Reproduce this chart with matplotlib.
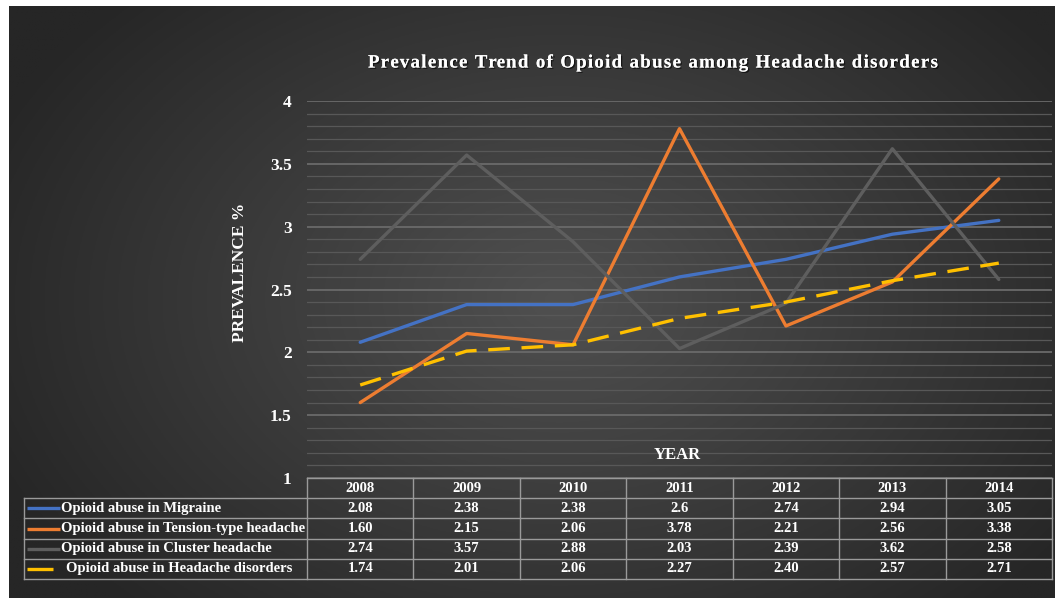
import numpy as np
import matplotlib
matplotlib.use("Agg")
import matplotlib.pyplot as plt
import matplotlib.patheffects as pe
from matplotlib.transforms import blended_transform_factory

# ---- data ----
years = [2008, 2009, 2010, 2011, 2012, 2013, 2014]
series_names = [
    "Opioid abuse in Migraine",
    "Opioid abuse in Tension-type headache",
    "Opioid abuse in Cluster headache",
    "Opioid abuse in Headache disorders",
]
migraine = [2.08, 2.38, 2.38, 2.6, 2.74, 2.94, 3.05]
tension = [1.60, 2.15, 2.06, 3.78, 2.21, 2.56, 3.38]
cluster = [2.74, 3.57, 2.88, 2.03, 2.39, 3.62, 2.58]
headache = [1.74, 2.01, 2.06, 2.27, 2.40, 2.57, 2.71]
yticks = [1, 1.5, 2, 2.5, 3, 3.5, 4]
ytick_labels = ["1", "1.5", "2", "2.5", "3", "3.5", "4"]

series = [migraine, tension, cluster, headache]
value_fmt = ["{:g}", "{:.2f}", "{:.2f}", "{:.2f}"]
colors = ["#4472C4", "#ED7D31", "#5E5E5E", "#FFC000"]
dashed = [False, False, False, True]

W, H = 1055, 598
SERIF = "Liberation Serif"

fig = plt.figure(figsize=(W / 100, H / 100), dpi=100)
fig.patch.set_facecolor("white")

# ---- dark radial-gradient backdrop ----
bx0, by0, bx1, by1 = 9, 6, W, H  # pixel box (top-down)
bg = fig.add_axes([bx0 / W, 0, (bx1 - bx0) / W, (by1 - by0) / H])
bg.set_axis_off()
gx = np.linspace(bx0, bx1, 400)
gy = np.linspace(by0, by1, 240)
GX, GY = np.meshgrid(gx, gy)
r = np.sqrt(((GX - 560) / 620) ** 2 + ((GY - 300) / 430) ** 2)
r = np.clip(r, 0, 1)
c_in = np.array([0x50, 0x50, 0x50]) / 255
c_out = np.array([0x26, 0x26, 0x26]) / 255
img = c_in[None, None, :] * (1 - r[..., None]) + c_out[None, None, :] * r[..., None]
bg.imshow(img, extent=[0, 1, 0, 1], aspect="auto", origin="upper")
bg.set_xlim(0, 1)
bg.set_ylim(0, 1)

# ---- plot axes ----
px_left, px_right = 307, 1052
px_top, px_bottom = 101, 478
ax = fig.add_axes([px_left / W, (H - px_bottom) / H,
                   (px_right - px_left) / W, (px_bottom - px_top) / H])
ax.patch.set_alpha(0)
x = np.arange(len(years))
ax.set_xlim(-0.5, len(years) - 0.5)
ax.set_ylim(1, 4)
for s in ax.spines.values():
    s.set_visible(False)

# minor (0.1) and major (0.5) gridlines
for v in np.round(np.arange(1.0, 4.01, 0.1), 2):
    major = abs(v * 2 - round(v * 2)) < 1e-6
    ax.axhline(v, color="#6a6a6a" if major else "#585858",
               lw=1.3 if major else 0.9, zorder=0)

ax.set_yticks(yticks)
ax.set_yticklabels(ytick_labels, fontfamily=SERIF, fontweight="bold",
                   fontsize=12.5, color="white")
ax.tick_params(axis="y", length=0, pad=11)
ax.set_xticks([])

for vals, col, dsh in zip(series, colors, dashed):
    ls = (0, (6.5, 3.5)) if dsh else "-"
    ax.plot(x, vals, color=col, lw=2.4, ls=ls, solid_capstyle="round",
            dash_capstyle="butt", zorder=3)

# axis titles
fig.text(240 / W, 1 - 272 / H, "PREVALENCE %", rotation=90, ha="center",
         va="center", fontfamily=SERIF, fontweight="bold", fontsize=12.5,
         color="white")
fig.text(677 / W, 1 - 455 / H, "YEAR", ha="center", va="center",
         fontfamily=SERIF, fontweight="bold", fontsize=12, color="white")

# ---- letter-spaced title with soft shadow ----
title = "Prevalence Trend of Opioid abuse among Headache disorders"
tsize = 13.5
renderer = fig.canvas.get_renderer()


def text_w(s):
    t = fig.text(0, 0, s + "|", fontfamily=SERIF, fontweight="bold", fontsize=tsize)
    w = t.get_window_extent(renderer).width
    t.remove()
    return w


bar_w = text_w("")
prefix = [text_w(title[:i]) - bar_w for i in range(len(title) + 1)]
natural = prefix[-1]
target = 938 - 368
spacing = (target - natural) / (len(title) - 1)
tx0 = 653 - target / 2
ty = 1 - 63 / H
shadow = [pe.withSimplePatchShadow(offset=(1, -1), shadow_rgbFace="black", alpha=0.6),
          pe.Normal()]
for i, ch in enumerate(title):
    if ch == " ":
        continue
    fig.text((tx0 + prefix[i] + i * spacing) / W, ty, ch, ha="left", va="center",
             fontfamily=SERIF, fontweight="bold", fontsize=tsize, color="white",
             path_effects=shadow)

# ---- data table below the plot ----
tr = blended_transform_factory(ax.transData, ax.transAxes)
row_h = 20.2 / (px_bottom - px_top)
col_w_px = (px_right - px_left) / len(years)
label_left = -0.5 - (px_left - 23.5) / col_w_px
grid_col = "#9a9a9a"
tkw = dict(transform=tr, clip_on=False, color=grid_col, lw=1.0, zorder=4)
tfont = dict(fontfamily=SERIF, fontweight="bold", fontsize=10.5, color="white",
             transform=tr, clip_on=False, va="center")

n_rows = len(series)
top = 0.0
bottom = -row_h * (n_rows + 1)
# horizontal rules
ax.plot([-0.5, len(years) - 0.5], [top, top], **tkw)
for k in range(1, n_rows + 2):
    yk = -row_h * k
    ax.plot([label_left, len(years) - 0.5], [yk, yk], **tkw)
# vertical rules
for j in range(len(years) + 1):
    ax.plot([j - 0.5, j - 0.5], [top, bottom], **tkw)
ax.plot([label_left, label_left], [-row_h, bottom], **tkw)

# header row
for j, yr in enumerate(years):
    ax.text(j, -row_h * 0.5, str(yr), ha="center", **tfont)

# series rows with legend keys
for k, (name, vals, col, dsh, fmt) in enumerate(zip(series_names, series, colors,
                                                     dashed, value_fmt)):
    yc = -row_h * (k + 1.5)
    kx0 = label_left + 3.5 / col_w_px
    kx1 = kx0 + (26 if dsh else 33) / col_w_px
    ax.plot([kx0, kx1], [yc, yc], color=col, lw=2.4, transform=tr,
            clip_on=False, solid_capstyle="butt", zorder=5)
    lx = label_left + (37.5 + (5 if dsh else 0)) / col_w_px
    ax.text(lx, yc, name, ha="left", **tfont)
    for j, v in enumerate(vals):
        ax.text(j, yc, fmt.format(v), ha="center", **tfont)

fig.savefig("out.png", dpi=100, facecolor=fig.get_facecolor())
